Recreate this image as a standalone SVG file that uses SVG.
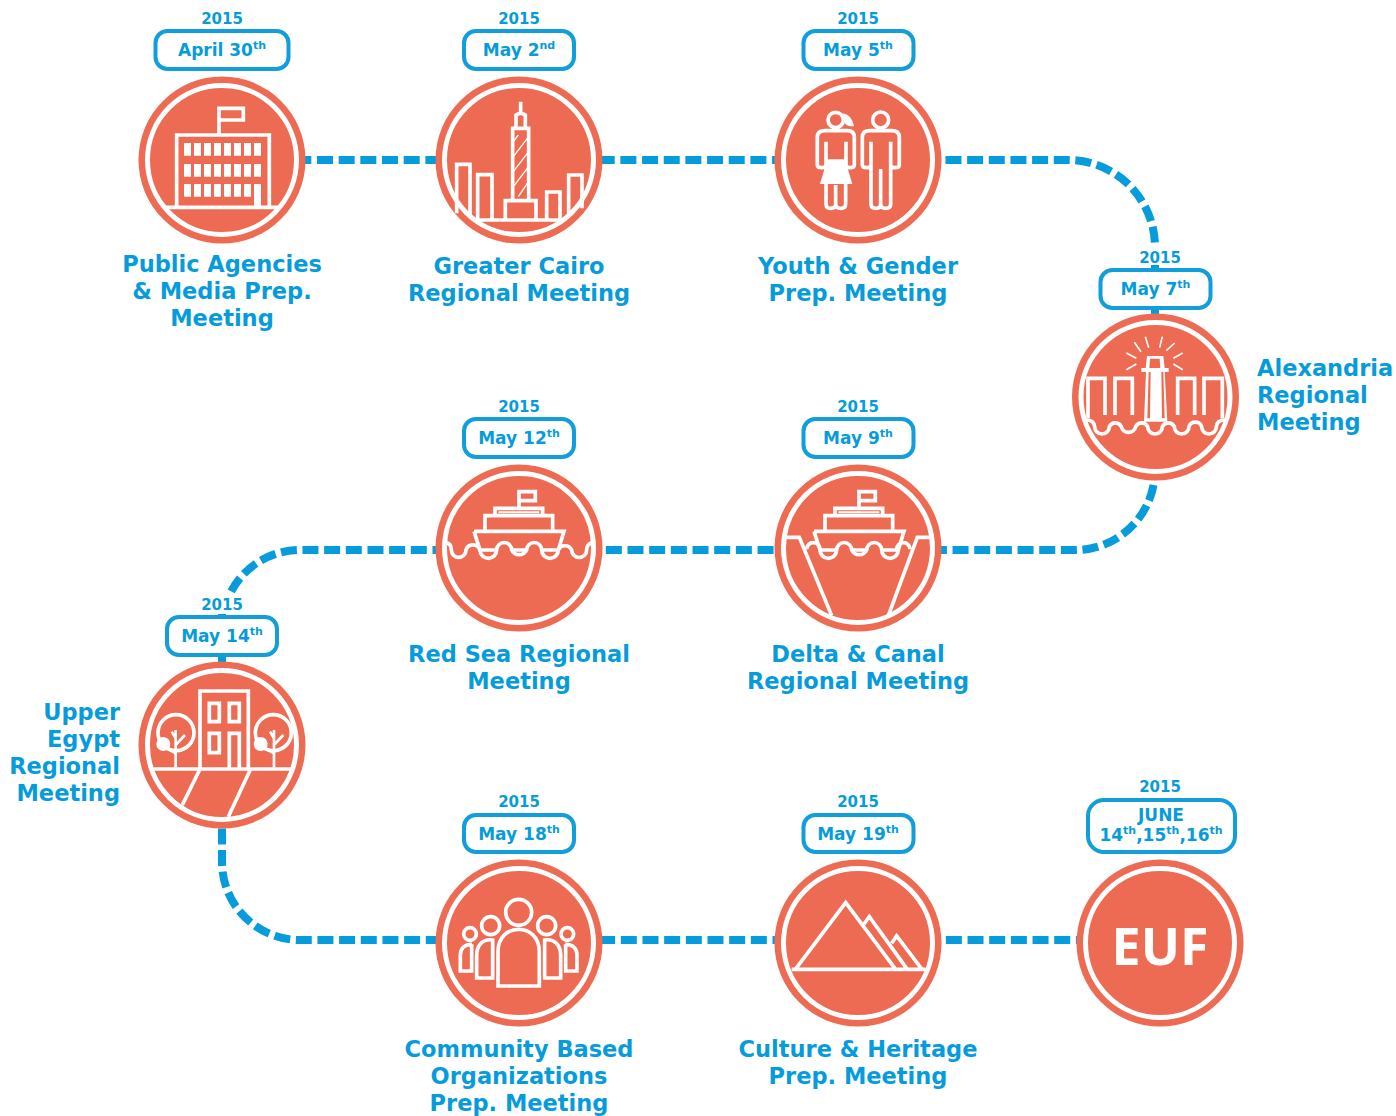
<svg xmlns="http://www.w3.org/2000/svg" xmlns:xlink="http://www.w3.org/1999/xlink" width="1396" height="1116" viewBox="0 0 1396 1116">
<style>
text{font-family:"DejaVu Sans","Verdana",sans-serif;font-weight:700;fill:#069cdb}
.y{font-size:15px;text-anchor:middle}
.d{font-size:17px;text-anchor:middle}
.s{font-size:11px}
.l{font-size:22.500px;text-anchor:middle}
.ls{font-size:22.500px;text-anchor:start}
.le{font-size:22.500px;text-anchor:end}
.p{fill:#fff;stroke:#119edb;stroke-width:4}
.c{fill:none;stroke:#069cdb;stroke-width:8;stroke-dasharray:16 5.670}
.k{fill:none;stroke:#069cdb;stroke-width:8}
.bg{fill:#ee6b53}
.r{fill:none;stroke:#fff;stroke-width:5}
.i{fill:none;stroke:#fff;stroke-width:11;stroke-linejoin:miter}
.t{stroke-width:6}
.f{fill:#fff;stroke:none}
</style>
<defs>
<g id="ship">
<path class="i" d="M267,145V95H316V122H267M195,165V145H338V165M165,210V167H368V210M132,214H402L385,270M132,214L150,270H195M245,270H290M335,270H385"/>
<path class="i t" d="M205,157H328"/>
<path class="i" d="M150,270A25,25 0 0 0 200,270A22,22 0 0 1 245,270A25,25 0 0 0 290,270A22,22 0 0 1 335,270A25,25 0 0 0 385,270"/>
</g>
</defs>
<g id="connectors">
<path class="c" d="M295.330,160H1068A87,87 0 0 1 1155,247V262"/>
<path class="k" d="M1155,262V320"/>
<path class="c" stroke-dashoffset="-5.100" d="M222,660V628A78,78 0 0 1 300,550H1075A80,80 0 0 0 1155,470"/>
<path class="k" d="M222,600V665"/>
<path class="c" stroke-dashoffset="-3.400" d="M222,825V862A78,78 0 0 0 300,940H1085"/>
</g>
<g id="n1">
<text class="y" x="222" y="24">2015</text>
<rect class="p" x="155.500" y="31" width="133" height="38" rx="12"/>
<text class="d" x="222" y="56">April 30<tspan class="s" dy="-7">th</tspan></text>
<circle class="bg" cx="222" cy="160" r="83.500"/><circle class="r" cx="222" cy="160" r="74.500"/>
<g transform="translate(130,0) scale(.33333)">
<path class="i" d="M140,622V405H418V622M108,622H445M267,400V325H340V360H267"/>
<path class="f" d="M162,429h21v38h-21zM192,429h21v38h-21zM222,429h21v38h-21zM252,429h21v38h-21zM282,429h21v38h-21zM312,429h21v38h-21zM342,429h21v38h-21zM372,429h21v38h-21zM162,492h21v38h-21zM192,492h21v38h-21zM222,492h21v38h-21zM252,492h21v38h-21zM282,492h21v38h-21zM312,492h21v38h-21zM342,492h21v38h-21zM372,492h21v38h-21zM162,552h21v38h-21zM192,552h21v38h-21zM222,552h21v38h-21zM252,552h21v38h-21zM282,552h21v38h-21zM312,552h21v38h-21zM342,552h21v38h-21zM372,552h21v66h-21z"/>
</g>
<text class="l" x="222" y="272">Public Agencies</text><text class="l" x="222" y="299">&amp; Media Prep.</text><text class="l" x="222" y="326">Meeting</text>
</g>
<g id="n2">
<text class="y" x="519" y="24">2015</text>
<rect class="p" x="464" y="31" width="110" height="38" rx="12"/>
<text class="d" x="519" y="56">May 2<tspan class="s" dy="-7">nd</tspan></text>
<circle class="bg" cx="519" cy="160" r="83.500"/><circle class="r" cx="519" cy="160" r="74.500"/>
<g transform="translate(130,0) scale(.33333)">
<path class="i" d="M1148,600V385H1196V600M1158,385V345Q1172,335 1186,345V385M1172,340V305M1126,655V602H1218V655M980,640V493H1020V655M1043,660V524H1086V660M1250,660V576H1290V655M1316,640V525H1356V625M1043,660H1300"/>
<path class="i" style="stroke-width:4" d="M1150,425L1165,405M1150,470L1192,415M1150,515L1192,460M1150,560L1192,505M1165,590L1192,550"/>
</g>
<text class="l" x="519" y="274">Greater Cairo</text><text class="l" x="519" y="301">Regional Meeting</text>
</g>
<g id="n3">
<text class="y" x="858" y="24">2015</text>
<rect class="p" x="803.500" y="31" width="110" height="38" rx="12"/>
<text class="d" x="858" y="56">May 5<tspan class="s" dy="-7">th</tspan></text>
<circle class="bg" cx="858" cy="160" r="83.500"/><circle class="r" cx="858" cy="160" r="74.500"/>
<g transform="translate(770,0) scale(.33333)">
<circle class="i" cx="197" cy="360" r="23"/><circle class="i" cx="332" cy="360" r="24"/>
<path class="f" d="M172,478H225L247,552H150Z"/>
<path class="f" d="M220,340Q245,345 252,378Q228,382 220,362Z"/>
<path class="i" d="M168,425V495Q168,503 155,503Q142,503 142,495V412Q142,392 165,392H232Q253,392 253,412V495Q253,503 240,503Q228,503 228,495V425M168,550V612Q168,625 182,625Q197,625 197,612V555M197,612Q197,625 212,625Q227,625 227,612V550"/>
<path class="i" d="M303,425V612Q303,625 318,625Q332,625 332,612V507M362,425V612Q362,625 347,625Q332,625 332,612M303,495Q303,503 290,503Q277,503 277,495V412Q277,392 300,392H365Q388,392 388,412V495Q388,503 375,503Q362,503 362,495"/>
</g>
<text class="l" x="858" y="274">Youth &amp; Gender</text><text class="l" x="858" y="301">Prep. Meeting</text>
</g>
<g id="n4">
<rect x="1136" y="247" width="48" height="19" fill="#fff"/>
<text class="y" x="1160" y="263">2015</text>
<path class="k" d="M1155,265V272"/>
<rect class="p" x="1100.500" y="270" width="110" height="38" rx="12"/>
<text class="d" x="1155.500" y="295">May 7<tspan class="s" dy="-7">th</tspan></text>
<circle class="bg" cx="1155.500" cy="397" r="83.500"/><circle class="r" cx="1155.500" cy="397" r="74.500"/>
<g transform="translate(1060,240) scale(.33333)">
<path class="i" d="M84,535V415H135V525M165,525V415H217V525M353,525V415H404V525M432,525V415H487V535"/>
<path class="i" d="M78,540Q102,540 104,560A22,22 0 0 0 148,560A20,20 0 0 1 184,560A22,22 0 0 0 227,560A20,20 0 0 1 263,560A22,22 0 0 0 307,560A20,20 0 0 1 343,560A22,22 0 0 0 387,560A20,20 0 0 1 425,560A22,22 0 0 0 469,560Q471,540 495,540"/>
<path class="f" d="M261,348H310L314,384H326V396H314L322,545H252L258,396H244V384H257ZM270,356L268,384H301L299,356Z"/>
<path fill="#ee6b53" d="M272,396H266L262,535H270ZM304,396H310L314,535H306Z"/>
<path class="i" style="stroke-width:5" d="M256,290L266,323M307,290L299,323M223,307L243,335M344,309L319,332M199,339L229,355M368,339L340,355M199,389L229,372M368,389L340,372"/>
</g>
<text class="ls" x="1257" y="376">Alexandria</text><text class="ls" x="1257" y="403">Regional</text><text class="ls" x="1257" y="430">Meeting</text>
</g>
<g id="n5">
<text class="y" x="858" y="412">2015</text>
<rect class="p" x="803.500" y="419" width="110" height="38" rx="12"/>
<text class="d" x="858" y="444">May 9<tspan class="s" dy="-7">th</tspan></text>
<circle class="bg" cx="858" cy="548" r="83.500"/><circle class="r" cx="858" cy="548" r="74.500"/>
<g transform="translate(430,460) scale(.33333)">
<use xlink:href="#ship" href="#ship" x="1020"/>
<path class="i" d="M1068,232H1108L1205,467M1500,232H1462L1375,467"/>
<path class="i" d="M1130,268A20,20 0 0 1 1170,268M1400,268A20,20 0 0 1 1440,268"/>
</g>
<text class="l" x="858" y="662">Delta &amp; Canal</text><text class="l" x="858" y="689">Regional Meeting</text>
</g>
<g id="n6">
<text class="y" x="519" y="412">2015</text>
<rect class="p" x="464" y="419" width="110" height="38" rx="12"/>
<text class="d" x="519" y="444">May 12<tspan class="s" dy="-7">th</tspan></text>
<circle class="bg" cx="519" cy="548" r="83.500"/><circle class="r" cx="519" cy="548" r="74.500"/>
<g transform="translate(430,460) scale(.33333)">
<use xlink:href="#ship" href="#ship"/>
<path class="i" d="M48,248Q64,250 64,270A22,22 0 0 0 108,270A22,22 0 0 1 150,270M385,270A22,22 0 0 1 425,270A22,22 0 0 0 470,270Q470,252 485,248"/>
</g>
<text class="l" x="519" y="662">Red Sea Regional</text><text class="l" x="519" y="689">Meeting</text>
</g>
<g id="n7">
<rect x="198" y="595" width="48" height="19" fill="#fff"/>
<text class="y" x="222" y="610">2015</text>
<rect class="p" x="167" y="617" width="110" height="38" rx="12"/>
<text class="d" x="222" y="642">May 14<tspan class="s" dy="-7">th</tspan></text>
<circle class="bg" cx="222" cy="745" r="83.500"/><circle class="r" cx="222" cy="745" r="74.500"/>
<g transform="translate(130,590) scale(.33333)">
<path class="i" d="M210,537V303H355V537M70,537H485M210,537L157,645M362,537L295,680M238,340H268V395H238ZM298,340H328V395H298ZM238,430H268V488H238ZM298,535V430H328V535"/>
<circle class="i" cx="138" cy="428" r="54"/><circle class="f" cx="100" cy="462" r="21"/>
<circle class="i" cx="430" cy="428" r="54"/><circle class="f" cx="392" cy="462" r="21"/>
<path class="i" style="stroke-width:8" d="M137,532V420M137,490L110,475M137,465L165,435M137,445L125,425"/>
<path class="i" style="stroke-width:8" d="M432,532V420M432,490L405,475M432,465L460,435M432,445L420,425"/>
</g>
<text class="le" x="120" y="720">Upper</text><text class="le" x="120" y="747">Egypt</text><text class="le" x="120" y="774">Regional</text><text class="le" x="120" y="801">Meeting</text>
</g>
<g id="n8">
<text class="y" x="519" y="807">2015</text>
<rect class="p" x="464" y="815" width="110" height="37" rx="12"/>
<text class="d" x="519" y="840">May 18<tspan class="s" dy="-7">th</tspan></text>
<circle class="bg" cx="519" cy="943" r="83.500"/><circle class="r" cx="519" cy="943" r="74.500"/>
<g transform="translate(430,850) scale(.33333)">
<circle class="i" cx="266" cy="187" r="39"/><circle class="i" cx="182" cy="227" r="27"/><circle class="i" cx="350" cy="227" r="27"/><circle class="i" cx="120" cy="252" r="19"/><circle class="i" cx="412" cy="252" r="19"/>
<path class="i" d="M204,408V305C204,260 235,238 266,238C297,238 328,260 328,305V408Z"/>
<path class="i" d="M188,270C155,265 140,290 140,315V384H188ZM344,270C377,265 392,290 392,315V384H344Z"/>
<path class="i" d="M126,283C105,283 91,295 91,315V363H125V283M406,283C427,283 441,295 441,315V363H407V283"/>
</g>
<text class="l" x="519" y="1057">Community Based</text><text class="l" x="519" y="1084">Organizations</text><text class="l" x="519" y="1111">Prep. Meeting</text>
</g>
<g id="n9">
<text class="y" x="858" y="807">2015</text>
<rect class="p" x="803.500" y="815" width="110" height="37" rx="12"/>
<text class="d" x="858" y="840">May 19<tspan class="s" dy="-7">th</tspan></text>
<circle class="bg" cx="858" cy="943" r="83.500"/><circle class="r" cx="858" cy="943" r="74.500"/>
<g transform="translate(430,850) scale(.33333)">
<path class="i" d="M1085,358H1487M1096,358L1247,158L1397,358M1302,222L1318,200L1432,358M1385,280L1400,258L1476,358"/>
</g>
<text class="l" x="858" y="1057">Culture &amp; Heritage</text><text class="l" x="858" y="1084">Prep. Meeting</text>
</g>
<g id="n10">
<text class="y" x="1160" y="792">2015</text>
<rect class="p" x="1088" y="800" width="147" height="52" rx="16"/>
<text class="d" x="1161" y="821">JUNE</text>
<text class="d" x="1161" y="841">14<tspan class="s" dy="-7">th</tspan><tspan dy="7">,15</tspan><tspan class="s" dy="-7">th</tspan><tspan dy="7">,16</tspan><tspan class="s" dy="-7">th</tspan></text>
<circle class="bg" cx="1160" cy="943" r="83.500"/><circle class="r" cx="1160" cy="943" r="74.500"/>
<text x="1160" y="965" text-anchor="middle" style="font-family:'Open Sans',sans-serif;font-size:52px;fill:#fff">EUF</text>
</g>
</svg>
